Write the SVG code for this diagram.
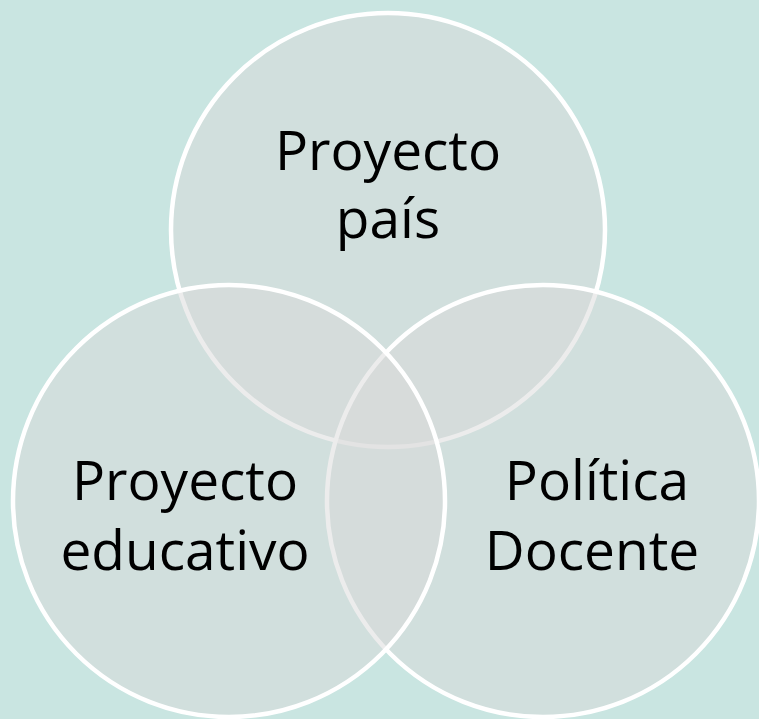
<svg xmlns="http://www.w3.org/2000/svg" width="759" height="719" viewBox="0 0 759 719">
<style>
.c{fill:#d9d9d9;fill-opacity:0.5;stroke:#ffffff;stroke-width:4.5}
.t{font-family:"Open Sans","Liberation Sans",sans-serif;font-size:55px;fill:#000000;text-anchor:middle}
</style>
<rect width="759" height="719" fill="#c9e5e1"/>
<g id="proyecto-pais">
<circle class="c" cx="388" cy="230" r="217"/>
<text class="t" x="388" y="170">Proyecto</text>
<text class="t" x="388" y="238">país</text>
</g>
<g id="politica-docente">
<circle class="c" cx="543" cy="501" r="216"/>
<text class="t" x="597" y="500">Política</text>
<text class="t" x="592" y="570">Docente</text>
</g>
<g id="proyecto-educativo">
<circle class="c" cx="229" cy="501" r="216"/>
<text class="t" x="185" y="500">Proyecto</text>
<text class="t" x="185" y="570">educativo</text>
</g>
<g id="connectors"/>
</svg>
